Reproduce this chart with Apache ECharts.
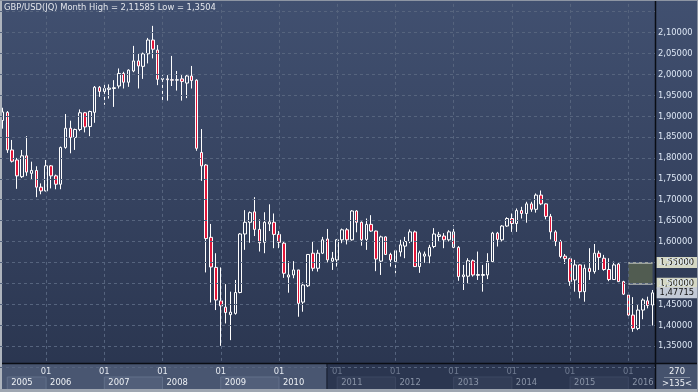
<!DOCTYPE html>
<html>
<head>
<meta charset="utf-8">
<script src="https://cdn.jsdelivr.net/npm/echarts@6.0.0/dist/echarts.min.js"></script>
<style>
html,body{margin:0;padding:0;overflow:hidden;background:#333f5a;}
#chart{width:698px;height:392px;}
</style>
</head>
<body>
<div id="chart"></div>
<script>
// ---------------- data ----------------
const firstYear = 2005, firstMonth = 4, monthCount = 135;
const categories = [];
for (let i = 0; i < monthCount; i++) {
  const k = firstMonth - 1 + i;
  categories.push((firstYear + Math.floor(k / 12)) + '-' + String(k % 12 + 1).padStart(2, '0'));
}
const opens = [
  1.8895, 1.909, 1.819, 1.795, 1.755, 1.805, 1.763, 1.770, 1.730,
  1.721, 1.781, 1.757, 1.737, 1.825, 1.871, 1.849, 1.868, 1.908, 1.875, 1.909, 1.969,
  1.959, 1.964, 1.966, 1.972, 2.002, 1.981, 2.008, 2.032, 2.019, 2.049, 2.082, 2.058,
  1.988, 1.989, 1.987, 1.986, 1.989, 1.979, 1.996, 1.986, 1.813, 1.783, 1.610, 1.538,
  1.458, 1.443, 1.425, 1.428, 1.478, 1.618, 1.646, 1.671, 1.629, 1.598, 1.642, 1.646,
  1.617, 1.596, 1.515, 1.520, 1.532, 1.455, 1.494, 1.572, 1.536, 1.572, 1.606, 1.553,
  1.556, 1.604, 1.628, 1.604, 1.673, 1.646, 1.605, 1.641, 1.625, 1.553, 1.611, 1.569,
  1.552, 1.575, 1.589, 1.600, 1.623, 1.540, 1.565, 1.565, 1.588, 1.612, 1.613, 1.604,
  1.623, 1.586, 1.516, 1.517, 1.554, 1.519, 1.519, 1.520, 1.552, 1.620, 1.604, 1.637,
  1.655, 1.643, 1.674, 1.667, 1.690, 1.677, 1.711, 1.690, 1.660, 1.623, 1.600, 1.565,
  1.559, 1.508, 1.544, 1.480, 1.536, 1.528, 1.572, 1.560, 1.533, 1.509, 1.546, 1.504,
  1.472, 1.424, 1.392, 1.436, 1.458, 1.448
];
const closes = [
  1.910, 1.819, 1.792, 1.757, 1.805, 1.766, 1.770, 1.730, 1.721,
  1.781, 1.757, 1.737, 1.825, 1.871, 1.849, 1.868, 1.908, 1.874, 1.911, 1.969, 1.959,
  1.966, 1.967, 1.968, 2.002, 1.981, 2.010, 2.032, 2.020, 2.049, 2.082, 2.060, 1.988,
  1.990, 1.987, 1.986, 1.987, 1.983, 1.996, 1.985, 1.823, 1.781, 1.607, 1.539, 1.460,
  1.446, 1.430, 1.431, 1.478, 1.618, 1.646, 1.669, 1.629, 1.597, 1.646, 1.647, 1.617,
  1.598, 1.524, 1.520, 1.532, 1.452, 1.496, 1.569, 1.536, 1.572, 1.604, 1.556, 1.560,
  1.604, 1.628, 1.604, 1.673, 1.646, 1.604, 1.641, 1.625, 1.558, 1.611, 1.569, 1.556,
  1.578, 1.592, 1.600, 1.623, 1.540, 1.573, 1.570, 1.586, 1.618, 1.616, 1.604, 1.623,
  1.586, 1.516, 1.520, 1.554, 1.520, 1.521, 1.521, 1.552, 1.620, 1.605, 1.637, 1.655,
  1.643, 1.674, 1.667, 1.690, 1.677, 1.711, 1.690, 1.660, 1.623, 1.600, 1.564, 1.559,
  1.504, 1.544, 1.480, 1.536, 1.528, 1.572, 1.562, 1.533, 1.509, 1.544, 1.504, 1.474,
  1.424, 1.392, 1.436, 1.460, 1.447, 1.47715
];
const lows = [
  1.870, 1.812, 1.789, 1.726, 1.752, 1.757, 1.749, 1.706, 1.713,
  1.720, 1.727, 1.725, 1.725, 1.822, 1.811, 1.819, 1.864, 1.861, 1.852, 1.884, 1.946,
  1.927, 1.942, 1.922, 1.966, 1.966, 1.970, 2.005, 1.966, 1.989, 2.026, 2.038, 1.974,
  1.935, 1.937, 1.972, 1.961, 1.937, 1.943, 1.966, 1.817, 1.745, 1.526, 1.454, 1.436,
  1.3504, 1.404, 1.364, 1.425, 1.476, 1.580, 1.597, 1.613, 1.576, 1.572, 1.625, 1.584,
  1.584, 1.513, 1.4775, 1.512, 1.420, 1.432, 1.491, 1.529, 1.528, 1.570, 1.550, 1.532,
  1.540, 1.596, 1.593, 1.602, 1.622, 1.590, 1.580, 1.623, 1.529, 1.520, 1.568, 1.540,
  1.524, 1.564, 1.560, 1.596, 1.539, 1.525, 1.549, 1.548, 1.584, 1.600, 1.584, 1.600,
  1.584, 1.506, 1.484, 1.500, 1.516, 1.508, 1.480, 1.510, 1.552, 1.588, 1.600, 1.635,
  1.623, 1.623, 1.655, 1.645, 1.671, 1.669, 1.687, 1.653, 1.605, 1.589, 1.560, 1.546,
  1.494, 1.480, 1.464, 1.456, 1.508, 1.523, 1.532, 1.530, 1.505, 1.508, 1.503, 1.472,
  1.420, 1.384, 1.388, 1.414, 1.440, 1.399
];
const highs = [
  1.920, 1.912, 1.843, 1.800, 1.819, 1.852, 1.791, 1.780, 1.739,
  1.795, 1.783, 1.760, 1.827, 1.905, 1.889, 1.870, 1.916, 1.910, 1.913, 1.972, 1.972,
  1.978, 1.976, 1.986, 2.014, 2.006, 2.012, 2.068, 2.049, 2.052, 2.087, 2.11585, 2.070,
  1.998, 1.998, 2.044, 2.008, 1.998, 2.000, 2.020, 1.988, 1.869, 1.785, 1.642, 1.572,
  1.538, 1.498, 1.480, 1.508, 1.620, 1.675, 1.672, 1.706, 1.653, 1.670, 1.689, 1.667,
  1.625, 1.599, 1.553, 1.553, 1.532, 1.502, 1.570, 1.601, 1.580, 1.611, 1.630, 1.575,
  1.606, 1.631, 1.632, 1.675, 1.675, 1.648, 1.655, 1.663, 1.626, 1.614, 1.612, 1.573,
  1.580, 1.604, 1.611, 1.629, 1.626, 1.578, 1.576, 1.592, 1.632, 1.623, 1.620, 1.627,
  1.639, 1.589, 1.544, 1.560, 1.557, 1.576, 1.544, 1.572, 1.623, 1.623, 1.639, 1.658,
  1.667, 1.679, 1.683, 1.695, 1.695, 1.715, 1.722, 1.691, 1.666, 1.627, 1.604, 1.570,
  1.561, 1.556, 1.545, 1.545, 1.584, 1.594, 1.578, 1.568, 1.560, 1.552, 1.549, 1.506,
  1.475, 1.467, 1.448, 1.464, 1.468, 1.484
];
const yTicks = [1.35, 1.40, 1.45, 1.50, 1.55, 1.60, 1.65, 1.70, 1.75, 1.80, 1.85, 1.90, 1.95, 2.00, 2.05, 2.10];
const zoneLevels = [1.50, 1.55];           // horizontal levels drawn at the right end
const zoneStart = '2016-01';
const boxYears = ['2005', '2007', '2009', '2011', '2013', '2015'];
const brightUntilYear = 2010;
const navText = ['270', '>135<'];

// ---------------- helpers ----------------
const FONT = '"DejaVu Sans Condensed", "Liberation Sans", sans-serif';
const FS = 9.3;
const fmt = v => v.toFixed(5).replace('.', ',');
const candleData = opens.map((o, i) => [o, closes[i], lows[i], highs[i]]);
const lastCat = categories[categories.length - 1];
const prevCat = categories[categories.length - 2];
const lastClose = closes[closes.length - 1];
const maxHigh = Math.max(...highs), minLow = Math.min(...lows);
const titleText = 'GBP/USD(JQ) Month High = ' + String(maxHigh).replace('.', ',') +
                  ' Low = ' + String(minLow).replace('.', ',');
const isJan = i => categories[i].slice(5) === '01';

const GRID = '#56647e';
const chart = echarts.init(document.getElementById('chart'), null, {renderer: 'canvas', width: 698, height: 392});

function tag(text, bg) {
  return {
    show: true, position: 'end', distance: 4, formatter: text,
    color: '#141414', backgroundColor: bg, padding: [1, 5, 0, 3],
    fontSize: FS, fontFamily: FONT, lineHeight: 10
  };
}

const option = {
  animation: false,
  backgroundColor: {
    type: 'linear', x: 0, y: 0, x2: 0, y2: 1,
    colorStops: [{offset: 0, color: '#415070'}, {offset: 1, color: '#29344e'}]
  },
  title: {
    text: titleText, left: 4, top: 3, padding: 0,
    textStyle: {color: '#e3e6ec', fontSize: FS, fontWeight: 'normal', fontFamily: FONT}
  },
  tooltip: {show: false},
  grid: {left: 0, right: 43, top: -9.3, bottom: 25.1, containLabel: false, outerBoundsMode: 'none'},
  xAxis: [
    {
      type: 'category', data: categories, boundaryGap: true, z: 10,
      axisLine: {show: false}, axisTick: {show: false}, splitLine: {show: false},
      axisLabel: {
        interval: (i) => isJan(i),
        formatter: () => '01', margin: 5, verticalAlign: 'middle',
        fontSize: FS, fontFamily: FONT,
        color: (v) => (+String(v).slice(0, 4) <= brightUntilYear ? '#e4e8ef' : '#6f7a90')
      }
    },
    {
      type: 'category', data: categories, boundaryGap: true, z: 10, position: 'bottom',
      axisLine: {show: false}, axisTick: {show: false}, splitLine: {show: false},
      axisLabel: {
        interval: (i) => isJan(i) || i === 1,
        formatter: (v) => v.slice(0, 4), margin: 16, align: 'left', padding: [0, 0, 0, 4],
        verticalAlign: 'middle', fontSize: FS, fontFamily: FONT,
        color: (v) => (+String(v).slice(0, 4) <= brightUntilYear ? '#eef1f5' : '#8a94a7')
      }
    }
  ],
  yAxis: {
    type: 'value', position: 'right', min: 1.30, max: 2.20, interval: 0.05, z: 10,
    axisLine: {show: false}, axisTick: {show: false},
    splitLine: {show: true, lineStyle: {color: GRID, type: [3, 3], width: 1}},
    axisLabel: {
      margin: 3, fontSize: FS, fontFamily: FONT, color: '#dce6f4',
      formatter: (v) => (yTicks.some(t => Math.abs(t - v) < 1e-6) ? fmt(v) : '')
    }
  },
  series: [
    {
      type: 'line', data: closes, showSymbol: false, silent: true, z: 1,
      lineStyle: {opacity: 0},
      markLine: {
        silent: true, symbol: ['none', 'none'], label: {show: false},
        lineStyle: {color: GRID, type: [3, 3], width: 1},
        data: categories.filter((c, i) => isJan(i)).map(c => ({xAxis: c}))
      }
    },
    {
      type: 'candlestick', data: candleData, barWidth: 3, z: 3,
      itemStyle: {
        color: 'rgba(0,0,0,0)', color0: '#e31538',
        borderColor: '#ffffff', borderColor0: '#ffffff', borderColorDoji: '#ffffff', borderWidth: 1
      },
      markArea: {
        silent: true,
        itemStyle: {color: '#515c51'},
        data: [[{xAxis: zoneStart, yAxis: zoneLevels[1]}, {xAxis: lastCat, yAxis: zoneLevels[0]}]]
      },
      markLine: {
        silent: true, symbol: ['none', 'none'],
        lineStyle: {color: '#b9bdb8', type: 'solid', width: 1.5},
        data: [
          [{xAxis: zoneStart, yAxis: zoneLevels[1], label: tag(fmt(zoneLevels[1]), '#d5d8c4')},
           {xAxis: lastCat, yAxis: zoneLevels[1], label: tag(fmt(zoneLevels[1]), '#d5d8c4')}],
          [{xAxis: zoneStart, yAxis: zoneLevels[0], label: tag(fmt(zoneLevels[0]), '#d5d8c4')},
           {xAxis: lastCat, yAxis: zoneLevels[0], label: tag(fmt(zoneLevels[0]), '#d5d8c4')}],
          [{xAxis: prevCat, yAxis: lastClose, lineStyle: {color: 'rgba(0,0,0,0)', width: 0.01}, label: tag(fmt(lastClose), '#c3cad6')},
           {xAxis: lastCat, yAxis: lastClose, lineStyle: {color: 'rgba(0,0,0,0)', width: 0.01}, label: tag(fmt(lastClose), '#c3cad6')}]
        ]
      }
    }
  ]
};
chart.setOption(option);

// ---------- decorative frame / bottom strip ----------
const px = c => chart.convertToPixel({xAxisIndex: 0}, c);
const g = [];
g.push({type: 'rect', z: 5, silent: true, shape: {x: 0, y: 363, width: 698, height: 29}, style: {fill: '#495671'}});
g.push({type: 'rect', z: 5, silent: true, shape: {x: 327, y: 364, width: 328, height: 26}, style: {fill: '#2b3650'}});
boxYears.forEach(y => {
  const startCat = (y === categories[0].slice(0, 4)) ? categories[1] : y + '-01';
  const endIdx = categories.indexOf((+y + 1) + '-01');
  const x0 = px(startCat);
  const x1 = endIdx >= 0 ? px(categories[endIdx]) : 655;
  const bright = +y <= brightUntilYear;
  g.push({type: 'rect', z: 5, silent: true,
    shape: {x: x0, y: 377, width: x1 - x0, height: 13},
    style: {fill: bright ? '#525f7a' : '#323d57', stroke: bright ? '#63708a' : '#3d4862', lineWidth: 1}});
});
g.push({type: 'line', z: 6, silent: true, shape: {x1: 327, y1: 364, x2: 327, y2: 390}, style: {stroke: '#1e2638', lineWidth: 1.5}});
g.push({type: 'rect', z: 5, silent: true, shape: {x: 656, y: 364, width: 42, height: 26}, style: {fill: '#45526d'}});
g.push({type: 'line', z: 6, silent: true, shape: {x1: 0, y1: 363.5, x2: 698, y2: 363.5}, style: {stroke: '#0a0d14', lineWidth: 1.5}});
g.push({type: 'line', z: 6, silent: true, shape: {x1: 655.5, y1: 0, x2: 655.5, y2: 390}, style: {stroke: '#0a0d14', lineWidth: 1.5}});
g.push({type: 'text', z: 7, silent: true, x: 677, y: 371.5,
  style: {text: navText[0], fill: '#eef1f5', fontSize: FS, fontFamily: FONT, align: 'center', verticalAlign: 'middle'}});
g.push({type: 'line', z: 7, silent: true, shape: {x1: 664, y1: 377.5, x2: 690, y2: 377.5}, style: {stroke: '#7c879b', lineWidth: 1}});
g.push({type: 'text', z: 7, silent: true, x: 677, y: 384,
  style: {text: navText[1], fill: '#eef1f5', fontSize: FS, fontFamily: FONT, align: 'center', verticalAlign: 'middle'}});
// outer frame
g.push({type: 'rect', z: 8, silent: true, shape: {x: 0, y: 0, width: 2, height: 392}, style: {fill: '#aeb4bd'}});
g.push({type: 'rect', z: 8, silent: true, shape: {x: 0, y: 389, width: 698, height: 3}, style: {fill: '#9fa6b1'}});
g.push({type: 'rect', z: 8, silent: true, shape: {x: 0, y: 0, width: 698, height: 1}, style: {fill: '#8d95a3'}});
g.push({type: 'rect', z: 8, silent: true, shape: {x: 697, y: 0, width: 1, height: 392}, style: {fill: '#8d95a3'}});
chart.setOption({graphic: g});
</script>
</body>
</html>
